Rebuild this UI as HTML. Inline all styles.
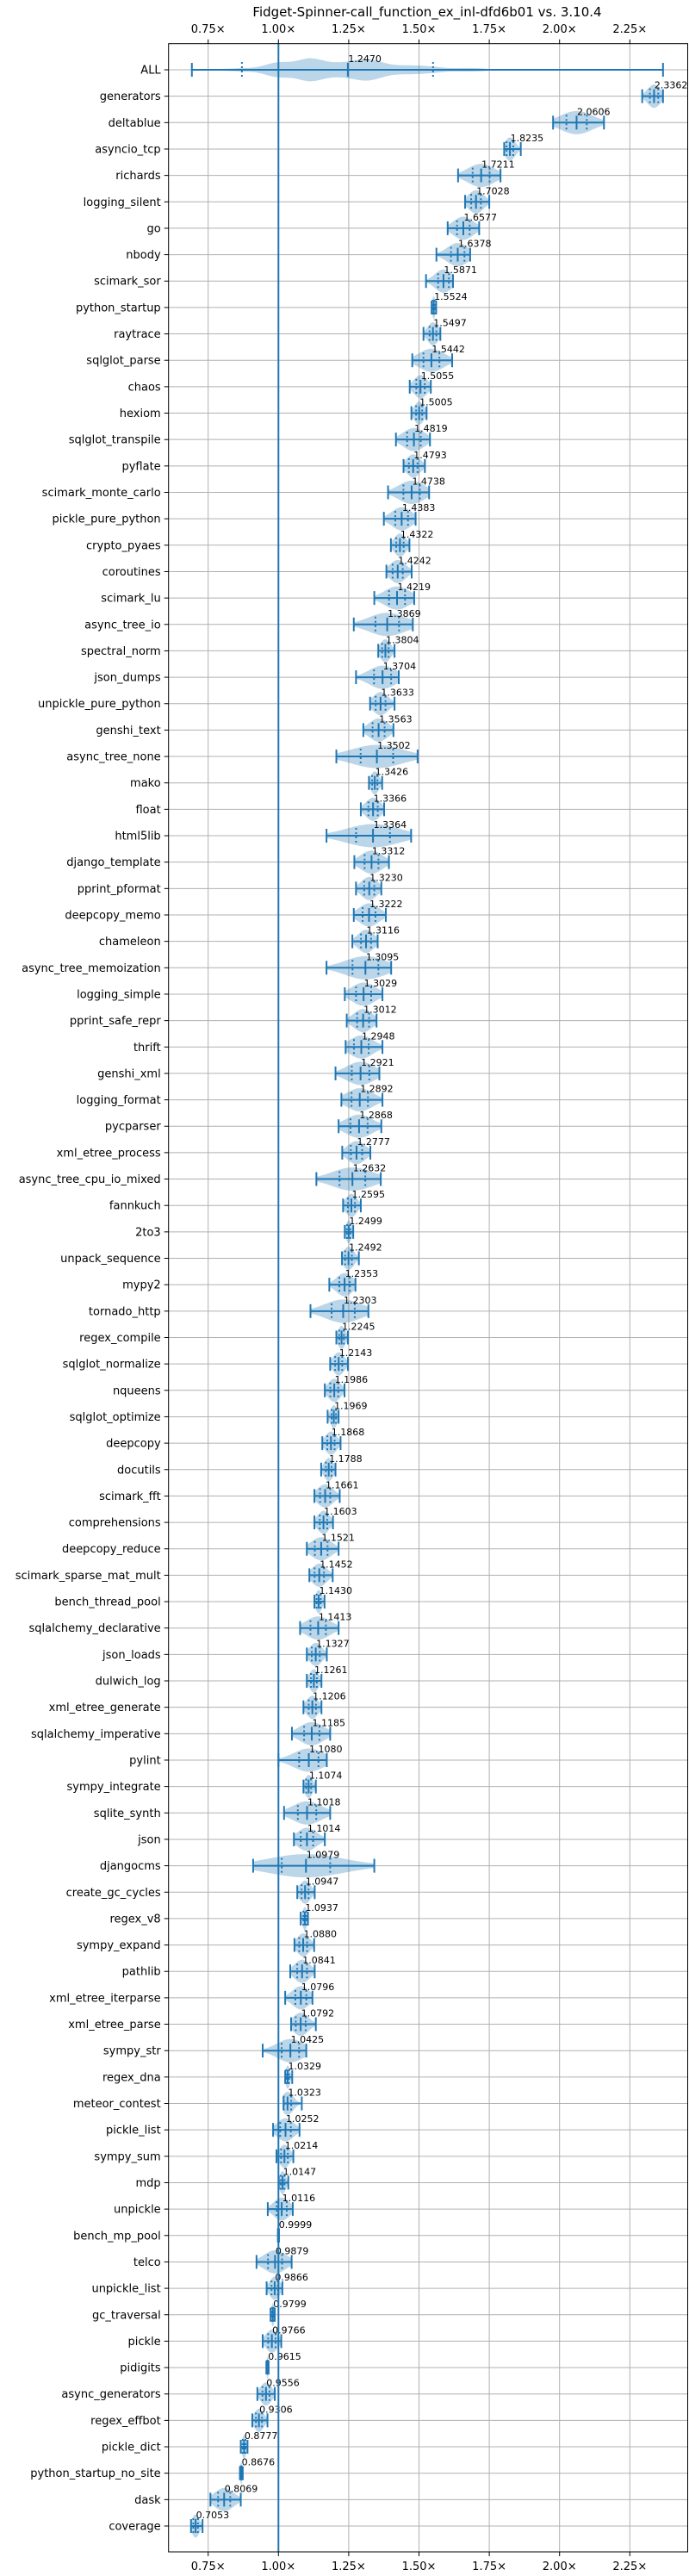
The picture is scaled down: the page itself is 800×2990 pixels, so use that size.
<!DOCTYPE html>
<html><head><meta charset="utf-8"><title>Fidget-Spinner-call_function_ex_inl-dfd6b01 vs. 3.10.4</title>
<style>html,body{margin:0;padding:0;background:#fff}svg{display:block}text{font-family:"DejaVu Sans","Liberation Sans",sans-serif}</style>
</head><body>
<svg id="chart" width="800" height="2990" viewBox="0 0 800 2990" xmlns="http://www.w3.org/2000/svg">
<text x="496" y="19" font-size="15" text-anchor="middle" fill="#000">Fidget-Spinner-call_function_ex_inl-dfd6b01 vs. 3.10.4</text>
<g id="grid"></g><g id="violins"></g><g id="marks"></g><g id="axes"></g>
</svg>
<script>
const names = ["ALL","generators","deltablue","asyncio_tcp","richards","logging_silent","go","nbody","scimark_sor","python_startup","raytrace","sqlglot_parse","chaos","hexiom","sqlglot_transpile","pyflate","scimark_monte_carlo","pickle_pure_python","crypto_pyaes","coroutines","scimark_lu","async_tree_io","spectral_norm","json_dumps","unpickle_pure_python","genshi_text","async_tree_none","mako","float","html5lib","django_template","pprint_pformat","deepcopy_memo","chameleon","async_tree_memoization","logging_simple","pprint_safe_repr","thrift","genshi_xml","logging_format","pycparser","xml_etree_process","async_tree_cpu_io_mixed","fannkuch","2to3","unpack_sequence","mypy2","tornado_http","regex_compile","sqlglot_normalize","nqueens","sqlglot_optimize","deepcopy","docutils","scimark_fft","comprehensions","deepcopy_reduce","scimark_sparse_mat_mult","bench_thread_pool","sqlalchemy_declarative","json_loads","dulwich_log","xml_etree_generate","sqlalchemy_imperative","pylint","sympy_integrate","sqlite_synth","json","djangocms","create_gc_cycles","regex_v8","sympy_expand","pathlib","xml_etree_iterparse","xml_etree_parse","sympy_str","regex_dna","meteor_contest","pickle_list","sympy_sum","mdp","unpickle","bench_mp_pool","telco","unpickle_list","gc_traversal","pickle","pidigits","async_generators","regex_effbot","pickle_dict","python_startup_no_site","dask","coverage"];
const medians = [1.2470,2.3362,2.0606,1.8235,1.7211,1.7028,1.6577,1.6378,1.5871,1.5524,1.5497,1.5442,1.5055,1.5005,1.4819,1.4793,1.4738,1.4383,1.4322,1.4242,1.4219,1.3869,1.3804,1.3704,1.3633,1.3563,1.3502,1.3426,1.3366,1.3364,1.3312,1.3230,1.3222,1.3116,1.3095,1.3029,1.3012,1.2948,1.2921,1.2892,1.2868,1.2777,1.2632,1.2595,1.2499,1.2492,1.2353,1.2303,1.2245,1.2143,1.1986,1.1969,1.1868,1.1788,1.1661,1.1603,1.1521,1.1452,1.1430,1.1413,1.1327,1.1261,1.1206,1.1185,1.1080,1.1074,1.1018,1.1014,1.0979,1.0947,1.0937,1.0880,1.0841,1.0796,1.0792,1.0425,1.0329,1.0323,1.0252,1.0214,1.0147,1.0116,0.9999,0.9879,0.9866,0.9799,0.9766,0.9615,0.9556,0.9306,0.8777,0.8676,0.8069,0.7053];
const mins = [0.692,2.294,1.977,1.803,1.639,1.664,1.602,1.562,1.525,1.545,1.516,1.476,1.467,1.473,1.418,1.445,1.390,1.375,1.400,1.384,1.341,1.268,1.355,1.276,1.326,1.302,1.206,1.322,1.293,1.171,1.270,1.276,1.268,1.263,1.171,1.236,1.243,1.239,1.203,1.224,1.214,1.227,1.135,1.230,1.236,1.226,1.181,1.114,1.206,1.184,1.165,1.175,1.156,1.152,1.128,1.128,1.101,1.110,1.128,1.077,1.101,1.101,1.089,1.048,1.000,1.089,1.020,1.055,0.910,1.067,1.079,1.057,1.042,1.024,1.045,0.944,1.024,1.018,0.981,0.993,1.001,0.962,0.998,0.922,0.958,0.972,0.944,0.957,0.925,0.907,0.866,0.863,0.758,0.689];
const maxs = [2.368,2.368,2.158,1.862,1.790,1.750,1.714,1.682,1.621,1.561,1.576,1.618,1.542,1.527,1.539,1.521,1.536,1.488,1.466,1.474,1.483,1.478,1.413,1.428,1.413,1.409,1.495,1.369,1.376,1.472,1.393,1.366,1.382,1.353,1.401,1.370,1.349,1.370,1.359,1.370,1.366,1.327,1.364,1.293,1.266,1.286,1.274,1.320,1.247,1.247,1.235,1.214,1.221,1.203,1.218,1.194,1.214,1.193,1.164,1.214,1.172,1.153,1.153,1.184,1.172,1.133,1.184,1.165,1.341,1.129,1.105,1.127,1.129,1.121,1.133,1.099,1.049,1.083,1.075,1.053,1.035,1.051,1.002,1.047,1.014,0.987,1.010,0.965,0.987,0.961,0.890,0.873,0.866,0.730];
const xTicks = [0.75,1.00,1.25,1.50,1.75,2.00,2.25];
const xTickLabels = ["0.75×","1.00×","1.25×","1.50×","1.75×","2.00×","2.25×"];

const NS = "http://www.w3.org/2000/svg";
const L = 195.7, R = 798.5, T = 50.7, B = 2962;
const x = v => 323.3 + (v - 1) * 326.4;
const rowY = i => 81 + i * ((2932 - 81) / 93);
const BLUE = "#1f77b4";
function mk(tag, attrs, parent) {
  const e = document.createElementNS(NS, tag);
  for (const k in attrs) e.setAttribute(k, attrs[k]);
  parent.appendChild(e);
  return e;
}
const gGrid = document.getElementById("grid"), gV = document.getElementById("violins"),
      gM = document.getElementById("marks"), gA = document.getElementById("axes");

// grid
xTicks.forEach((t, k) => {
  const ln = mk("line", {x1: x(t), x2: x(t), y1: T, y2: B, stroke: "#b0b0b0", "stroke-width": 1}, gGrid);
  
  
  [[T, T - 5, 38], [B, B + 5, 2983]].forEach(([a, b, ty]) => {
    const tk = mk("line", {x1: x(t), x2: x(t), y1: a, y2: b, stroke: "#000", "stroke-width": 1}, gA);
    
    
    const tx = mk("text", {x: x(t), y: ty, "font-size": 13, "text-anchor": "middle", fill: "#000"}, gA);
    tx.textContent = xTickLabels[k];
    
    
  });
});
names.forEach((n, i) => {
  const y = rowY(i);
  const ln = mk("line", {x1: L, x2: R, y1: y, y2: y, stroke: "#b0b0b0", "stroke-width": 1}, gGrid);
  
  
  const tk = mk("line", {x1: L - 5, x2: L, y1: y, y2: y, stroke: "#000", "stroke-width": 1}, gA);
  
  
  const tx = mk("text", {x: L - 9, y: y + 4.5, "font-size": 13, "text-anchor": "end", fill: "#000"}, gA);
  tx.textContent = n;
  
  
});

// violins
const H = 13.5;
names.forEach((n, i) => {
  const y = rowY(i), m = medians[i], lo = mins[i], hi = maxs[i];
  const span = Math.max(hi - lo, 0.004);
  let dens;
  if (i === 0) {
    const bw = 0.035;
    dens = v => { let s = 0; for (let j = 1; j < medians.length; j++) s += Math.exp(-0.5 * ((v - medians[j]) / bw) ** 2); return s; };
  } else {
    const s = span / 3.2;
    dens = v => Math.exp(-0.5 * ((v - m) / s) ** 2);
  }
  const N = 80, pts = [];
  let mx = 0;
  for (let k = 0; k <= N; k++) { const v = lo + span * k / N; const d = dens(v); pts.push([v, d]); if (d > mx) mx = d; }
  let top = "", bot = "";
  pts.forEach(([v, d], k) => { const h = H * d / mx; top += (k ? "L" : "M") + x(v).toFixed(2) + "," + (y - h).toFixed(2); });
  for (let k = pts.length - 1; k >= 0; k--) { const [v, d] = pts[k]; bot += "L" + x(v).toFixed(2) + "," + (y + H * d / mx).toFixed(2); }
  const p = mk("path", {d: top + bot + "Z", fill: BLUE, "fill-opacity": 0.3, stroke: "none"}, gV);
  
  

  // whisker bar
  const bar = mk("line", {x1: x(lo), x2: x(hi), y1: y, y2: y, stroke: BLUE, "stroke-width": 2}, gM);
  
  
  [lo, hi].forEach(v => {
    const c = mk("line", {x1: x(v), x2: x(v), y1: y - 8, y2: y + 8, stroke: BLUE, "stroke-width": 2}, gM);
    
    
  });
  const md = mk("line", {x1: x(m), x2: x(m), y1: y - 8, y2: y + 8, stroke: BLUE, "stroke-width": 2}, gM);
  
  
  const q = i === 0 ? [0.87, 1.55] : [m - span * 0.2, m + span * 0.2];
  q.forEach(v => {
    const d = mk("line", {x1: x(v), x2: x(v), y1: y - 9, y2: y + 9, stroke: BLUE, "stroke-width": 2, "stroke-dasharray": "2,3"}, gM);
    
    
  });
  const lbl = mk("text", {x: x(m) + 0.5, y: y - 9, "font-size": 11, fill: "#000"}, gM);
  lbl.textContent = m.toFixed(4);
  
  
});

// baseline 1.0
const base = mk("line", {x1: x(1), x2: x(1), y1: T, y2: B, stroke: BLUE, "stroke-width": 2}, gM);


const frame = mk("rect", {x: L, y: T, width: R - L, height: B - T, fill: "none", stroke: "#000", "stroke-width": 1}, gA);


</script>
</body></html>
